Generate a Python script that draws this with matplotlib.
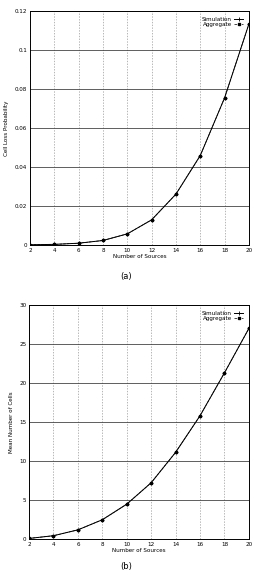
import matplotlib.pyplot as plt
import numpy as np

# number of sources
sources = [2, 4, 6, 8, 10, 12, 14, 16, 18, 20]

# (a) cell loss probability
loss_sim = [0.0, 0.0002, 0.0008, 0.0022, 0.0056, 0.0128, 0.026, 0.0458, 0.0754, 0.1133]
loss_agg = [0.0, 0.0002, 0.0008, 0.0022, 0.0056, 0.0128, 0.026, 0.0458, 0.0754, 0.1133]

# (b) mean number of cells
cells_sim = [0.05, 0.4, 1.15, 2.45, 4.45, 7.2, 11.1, 15.8, 21.3, 27.0]
cells_agg = [0.05, 0.4, 1.15, 2.45, 4.45, 7.2, 11.1, 15.8, 21.3, 27.0]

loss_ticks = [0, 0.02, 0.04, 0.06, 0.08, 0.1, 0.12]
loss_ticklabels = ['0', '0.02', '0.04', '0.06', '0.08', '0.1', '0.12']
cells_ticks = [0, 5, 10, 15, 20, 25, 30]

fig = plt.figure(figsize=(2.55, 5.8), dpi=100)
ax1 = fig.add_axes([0.118, 0.578, 0.858, 0.403])
ax2 = fig.add_axes([0.114, 0.071, 0.862, 0.403])

fs = 4.1


def setup(ax, yticks, ylabels, ylabel, ylim):
    ax.set_xlim(2, 20)
    ax.set_ylim(*ylim)
    ax.set_xticks(sources)
    ax.set_xticklabels([str(s) for s in sources], fontsize=fs)
    ax.set_yticks(yticks)
    ax.set_yticklabels(ylabels, fontsize=fs)
    ax.set_xlabel("Number of Sources", fontsize=fs, labelpad=1)
    ax.set_ylabel(ylabel, fontsize=fs, labelpad=4)
    ax.tick_params(length=0, pad=2)
    ax.xaxis.grid(True, linestyle=(0, (2, 2)), color='#999999', linewidth=0.5)
    ax.yaxis.grid(True, linestyle='-', color='#444444', linewidth=0.6)
    for sp in ax.spines.values():
        sp.set_linewidth(0.7)


ax1.plot(sources, loss_sim, color='black', linewidth=0.7, marker='+', markersize=3,
         markeredgewidth=0.6, label="Simulation")
ax1.plot(sources, loss_agg, color='black', linewidth=0.5, linestyle='--', marker='s',
         markersize=1.8, label="Aggregate")
setup(ax1, loss_ticks, loss_ticklabels, "Cell Loss Probability", (0, 0.12))

ax2.plot(sources, cells_sim, color='black', linewidth=0.7, marker='+', markersize=3,
         markeredgewidth=0.6, label="Simulation")
ax2.plot(sources, cells_agg, color='black', linewidth=0.5, linestyle='--', marker='s',
         markersize=1.8, label="Aggregate")
setup(ax2, cells_ticks, [str(t) for t in cells_ticks], "Mean Number of Cells", (0, 30))

for ax in (ax1, ax2):
    leg = ax.legend(loc='upper right', fontsize=fs, frameon=False, markerfirst=False,
                    handlelength=1.6, handletextpad=0.4, labelspacing=0.1,
                    borderaxespad=0.6)

fig.text(0.494, 1 - 277 / 580, "(a)", fontsize=6, ha='center', va='center')
fig.text(0.494, 1 - 567 / 580, "(b)", fontsize=6, ha='center', va='center')

fig.savefig("out.png", dpi=100)
